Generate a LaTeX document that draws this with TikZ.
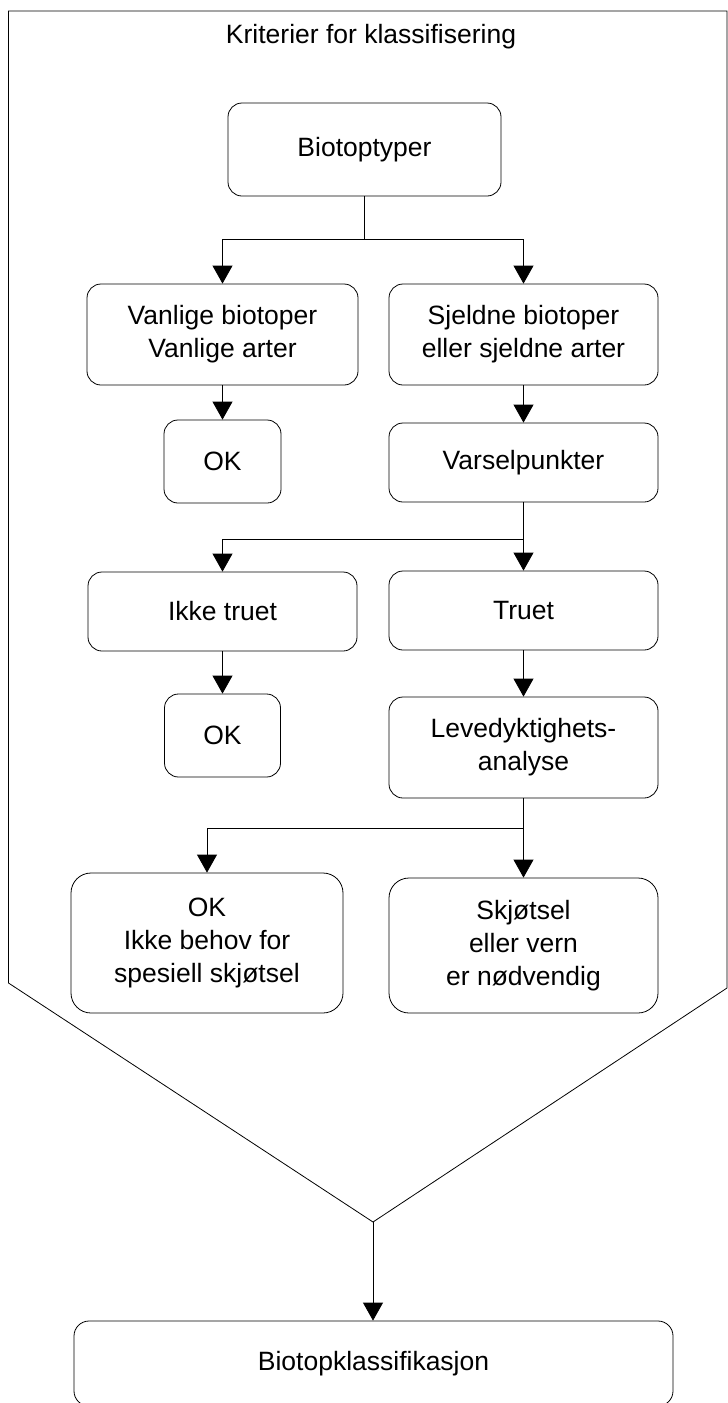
\documentclass[tikz,border=0pt]{standalone}
\usepackage{fontspec}
\setmainfont{Liberation Sans}
\usetikzlibrary{arrows.meta}
\begin{document}
\begin{tikzpicture}[x=1pt,y=-1pt,
  font=\fontsize{26.5pt}{33pt}\selectfont,
  line width=0.8pt,
  box/.style={draw, rounded corners=14pt, align=center, inner sep=0pt},
  bigbox/.style={box, rounded corners=20pt},
  arr/.style={-{Triangle[width=20pt,length=18pt]}}]
\clip (0,0) rectangle (728,1403);
% outer frame
\coordinate (tl) at (8.5,11);
\coordinate (tr) at (727,11);
\coordinate (lb) at (8.5,983);
\coordinate (rb) at (727,988);
\coordinate (V) at (373,1222);
\draw (lb) -- (tl) -- (tr) -- (rb) -- (V) -- cycle;
\node[anchor=base] (title) at (371,43) {Kriterier for klassifisering};
% boxes
\node[box, minimum width=273pt, minimum height=93pt] (bio) at (364.5,149.5) {Biotoptyper};
\node[box, minimum width=271pt, minimum height=101pt] (van) at (222.5,334.5) {Vanlige biotoper\\Vanlige arter};
\node[box, minimum width=269pt, minimum height=101pt] (sje) at (523.5,334.5) {Sjeldne biotoper\\eller sjeldne arter};
\node[box, minimum width=117pt, minimum height=83pt] (ok1) at (222.5,461.5) {OK};
\node[box, minimum width=269pt, minimum height=79pt] (var) at (523.5,462.5) {Varselpunkter};
\node[box, minimum width=269pt, minimum height=79pt] (ikk) at (222.5,611.5) {Ikke truet};
\node[box, minimum width=269pt, minimum height=79pt] (tru) at (523.5,610.5) {Truet};
\node[box, minimum width=116pt, minimum height=83pt] (ok2) at (222.5,735.5) {OK};
\node[box, minimum width=269pt, minimum height=101pt] (lev) at (523.5,747.5) {Levedyktighets-\\analyse};
\node[bigbox, minimum width=272pt, minimum height=140pt] (ok3) at (207,943) {OK\\Ikke behov for\\spesiell skjøtsel};
\node[bigbox, minimum width=269pt, minimum height=135pt] (skj) at (523.5,945.5) {Skjøtsel\\eller vern\\er nødvendig};
\node[box, rounded corners=15pt, minimum width=599pt, minimum height=85pt] (bk) at (373.5,1363.5) {Biotopklassifikasjon};
% connectors
\coordinate (s1) at (364.5,239);
\draw (bio) -- (s1);
\draw[arr] (s1) -| (van.north);
\draw[arr] (s1) -| (sje.north);
\draw[arr] (van) -- (ok1);
\draw[arr] (sje) -- (var);
\coordinate (s2) at (523.5,539);
\draw (var) -- (s2);
\draw[arr] (s2) -| (ikk.north);
\draw[arr] (s2) -- (tru);
\draw[arr] (ikk) -- (ok2);
\draw[arr] (tru) -- (lev);
\coordinate (s3) at (523.5,828);
\draw (lev) -- (s3);
\draw[arr] (s3) -| (ok3.north);
\draw[arr] (s3) -- (skj);
\draw[arr] (V) -- (bk.north -| V);
\end{tikzpicture}
\end{document}
